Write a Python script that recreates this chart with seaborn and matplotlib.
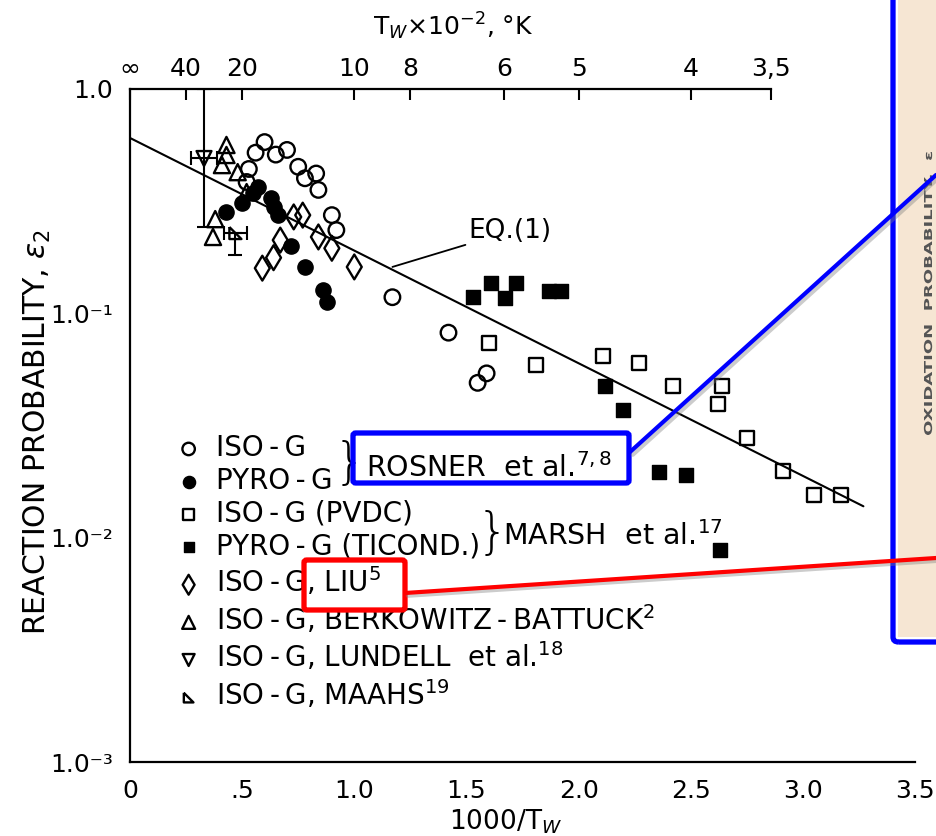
import numpy as np
import pandas as pd
import matplotlib
matplotlib.use("Agg")
import matplotlib.pyplot as plt
import matplotlib.patches as mpatches
import matplotlib.patheffects as pe
from matplotlib.lines import Line2D
from matplotlib.textpath import TextPath
from matplotlib.font_manager import FontProperties
from matplotlib.transforms import Affine2D, IdentityTransform
from matplotlib.ticker import FixedLocator, NullFormatter
import seaborn as sns

# ---- data (x = 1000/Tw, y = reaction probability) ----
# Rosner et al. ISO-G (open circles)
rosner_iso_x = [0.60, 0.56, 0.65, 0.70, 0.75, 0.78, 0.83, 0.84, 0.53, 0.52, 0.90, 0.92, 1.17, 1.42, 1.59, 1.55]
rosner_iso_y = [0.58, 0.52, 0.51, 0.535, 0.45, 0.40, 0.42, 0.355, 0.44, 0.385, 0.274, 0.235, 0.118, 0.082, 0.054, 0.049]
# Rosner et al. PYRO-G (filled circles)
rosner_pyro_x = [0.43, 0.50, 0.57, 0.55, 0.63, 0.64, 0.66, 0.72, 0.78, 0.86, 0.88]
rosner_pyro_y = [0.283, 0.31, 0.366, 0.344, 0.327, 0.298, 0.274, 0.20, 0.161, 0.127, 0.112]
# Marsh et al. ISO-G (PVDC) (open squares)
marsh_iso_x = [1.60, 1.81, 2.11, 2.27, 2.42, 2.64, 2.62, 2.75, 2.91, 3.05, 3.17]
marsh_iso_y = [0.074, 0.059, 0.0645, 0.060, 0.0474, 0.0474, 0.0394, 0.0278, 0.0198, 0.0155, 0.0155]
# Marsh et al. PYRO-G (TICOND.) (filled squares)
marsh_pyro_x = [1.53, 1.61, 1.72, 1.67, 1.87, 1.92, 2.12, 2.20, 2.36, 2.48, 2.63]
marsh_pyro_y = [0.118, 0.136, 0.136, 0.117, 0.126, 0.126, 0.0474, 0.037, 0.0196, 0.019, 0.0088]
# Liu (diamonds)
liu_x = [0.73, 0.77, 0.67, 0.64, 0.59, 0.84, 0.90, 1.00]
liu_y = [0.269, 0.274, 0.212, 0.177, 0.159, 0.219, 0.195, 0.161]
# Berkowitz-Battuck (up triangles)
berk_x = [0.43, 0.43, 0.41, 0.48, 0.52, 0.38, 0.37]
berk_y = [0.563, 0.508, 0.458, 0.426, 0.347, 0.263, 0.219]
# Lundell et al. (down triangle with error bars)
lundell_x = [0.33]
lundell_y = [0.49]
lundell_xerr = [0.06]
lundell_ylow = [0.243]
lundell_yhigh = [1.0]
# Maahs (right triangle with error bars)
maahs_x = [0.47]
maahs_y = [0.228]
maahs_xerr = [0.053]
maahs_ylow = [0.182]
# EQ.(1) line end points
eq_x = [0.0, 3.27]
eq_y = [0.605, 0.0138]

x_ticks = [0, 0.5, 1.0, 1.5, 2.0, 2.5, 3.0, 3.5]
x_tick_labels = ["0", ".5", "1.0", "1.5", "2.0", "2.5", "3.0", "3.5"]
y_ticks = [1e-3, 1e-2, 1e-1, 1.0]
y_tick_labels = ["1.0\u207b\u00b3", "1.0\u207b\u00b2", "1.0\u207b\u00b9", "1.0"]
top_temps = [np.inf, 40, 20, 10, 8, 6, 5, 4, 3.5]
top_labels = ["\u221e", "40", "20", "10", "8", "6", "5", "4", "3,5"]

sns.set_theme(style="white")
plt.rcParams["font.family"] = ["DejaVu Sans"]
plt.rcParams["axes.linewidth"] = 1.6
for key in ["text.color", "axes.labelcolor", "xtick.color", "ytick.color", "axes.edgecolor"]:
    plt.rcParams[key] = "black"

W, H = 936, 836
fig = plt.figure(figsize=(W / 100, H / 100), dpi=100)
ax = fig.add_axes([130 / W, 1 - 762 / H, 785 / W, 673 / H])


def fpx(x, y):
    return (x / W, 1 - y / H)


open_kw = dict(facecolor="none", edgecolor="black", linewidth=1.7)
fill_kw = dict(color="black", edgecolor="black", linewidth=1.0)
maahs_marker = [(-1, 1), (-1, -1), (1, -1), (-1, 1)]
hy = "\u2009-\u2009"

series = [
    (f"ISO{hy}G", rosner_iso_x, rosner_iso_y, "o", 125, open_kw),
    (f"PYRO{hy}G", rosner_pyro_x, rosner_pyro_y, "o", 120, fill_kw),
    (f"ISO{hy}G (PVDC)", marsh_iso_x, marsh_iso_y, "s", 105, open_kw),
    (f"PYRO{hy}G (TICOND.)", marsh_pyro_x, marsh_pyro_y, "s", 95, fill_kw),
    (f"ISO{hy}G, LIU$^5$", liu_x, liu_y, "d", 160, open_kw),
    (f"ISO{hy}G, BERKOWITZ{hy}BATTUCK$^2$", berk_x, berk_y, "^", 135, open_kw),
]

for label, xs, ys, mk, s, kw in series:
    df = pd.DataFrame({"x": xs, "y": ys})
    sns.scatterplot(data=df, x="x", y="y", marker=mk, s=s, ax=ax, label=label, zorder=3, **kw)

ax.errorbar(lundell_x, lundell_y, xerr=lundell_xerr,
            yerr=[np.array(lundell_y) - np.array(lundell_ylow), np.array(lundell_yhigh) - np.array(lundell_y)],
            fmt="none", ecolor="black", elinewidth=1.5, capsize=5, capthick=1.5, zorder=2)
sns.scatterplot(x=lundell_x, y=lundell_y, marker="v", s=115, ax=ax,
                label=f"ISO{hy}G, LUNDELL  et al.$^{{18}}$", zorder=3, **open_kw)
ax.errorbar(maahs_x, maahs_y, xerr=maahs_xerr,
            yerr=[np.array(maahs_y) - np.array(maahs_ylow), np.zeros(1)],
            fmt="none", ecolor="black", elinewidth=1.5, capsize=5, capthick=1.5, zorder=2)
sns.scatterplot(x=maahs_x, y=maahs_y, marker=maahs_marker, s=75, ax=ax,
                label=f"ISO{hy}G, MAAHS$^{{19}}$", zorder=3, **open_kw)

sns.lineplot(x=eq_x, y=eq_y, ax=ax, color="black", linewidth=1.5, zorder=2)

ax.set_yscale("log")
ax.set_xlim(0, 3.5)
ax.set_ylim(1e-3, 1.0)
ax.set_xticks(x_ticks)
ax.set_xticklabels(x_tick_labels)
ax.set_yticks(y_ticks)
ax.set_yticklabels(y_tick_labels)
ax.yaxis.set_minor_locator(FixedLocator([m * 10.0 ** e for e in (-3, -2, -1) for m in (2, 4, 6, 8)]))
ax.yaxis.set_minor_formatter(NullFormatter())
ax.tick_params(axis="both", which="major", direction="in", length=9, width=1.5,
               labelsize=18, colors="black")
ax.tick_params(axis="x", pad=12)
ax.tick_params(axis="y", pad=12)
ax.tick_params(axis="y", which="minor", direction="in", length=6, width=1.2)
ax.spines["right"].set_visible(False)
ax.spines["top"].set_visible(False)
ax.set_xlabel(r"1000/T$_W$", fontsize=19)
ax.xaxis.set_label_coords(0.478, -0.068)
ax.set_ylabel(r"REACTION PROBABILITY, $\epsilon_2$", fontsize=21.5)
ax.yaxis.set_label_coords(-0.098, 0.49)

top = ax.secondary_xaxis("top")
top.set_xticks([10 / t if np.isfinite(t) else 0.0 for t in top_temps])
top.set_xticklabels(top_labels)
top.tick_params(direction="in", length=8, width=1.5, labelsize=18, pad=6, colors="black")
top.spines["top"].set_bounds(0, 10 / 3.5)
top.spines["top"].set_linewidth(1.6)
fig.text(*fpx(453, 26), r"T$_W$$\times$10$^{-2}$, °K", fontsize=18, ha="center", va="center")

# EQ.(1) label with leader
ax.annotate("EQ.(1)", xy=(1.17, 0.161), xytext=(1.51, 0.232), fontsize=19,
            va="center", ha="left",
            arrowprops=dict(arrowstyle="-", color="black", lw=1.3, shrinkA=0, shrinkB=0))

leg = ax.legend(loc="upper left", bbox_to_anchor=(0.057, 0.487), frameon=False,
                fontsize=20, handlelength=1.0, handletextpad=0.5, labelspacing=0.17,
                borderpad=0, borderaxespad=0, markerscale=0.8)

ax.text(0.98, 0.0212, "}", fontsize=36, va="center", ha="center", fontweight="light")
ax.text(1.05, 0.0205, r"ROSNER  et al.$^{7,8}$", fontsize=20.5, va="center", ha="left")
ax.text(1.615, 0.0104, "}", fontsize=36, va="center", ha="center", fontweight="light")
ax.text(1.665, 0.0102, r"MARSH  et al.$^{17}$", fontsize=20.5, va="center", ha="left")

# ---- overlay: highlight boxes, connecting lines, side panel ----
shadow = [pe.SimpleLineShadow(offset=(2, -2), shadow_color="gray", alpha=0.4), pe.Normal()]
fig.add_artist(mpatches.Rectangle(fpx(898, 637), 40 / W, 637 / H, transform=fig.transFigure,
                                  facecolor="#f6e6d3", edgecolor="none", zorder=5))
fig.add_artist(mpatches.FancyBboxPatch(fpx(893, 642), 80 / W, 700 / H, transform=fig.transFigure,
                                       boxstyle="round,pad=0,rounding_size=0.006",
                                       facecolor="none", edgecolor="#0000ff", linewidth=3.8, zorder=6))

# stretched side-panel caption (pixel coordinates)
tp = TextPath((0, 0), "OXIDATION  PROBABILITY,  \u03b5", size=10,
              prop=FontProperties(family="DejaVu Sans", weight="bold"))
ext = tp.get_extents()
sx = 283 / ext.width
sy = 8.0 / 7.3
tr = (Affine2D().translate(-ext.x0, 0).scale(sx, sy).rotate_deg(90)
      .translate(932, H - 435))
fig.add_artist(mpatches.PathPatch(tp, transform=tr + IdentityTransform(), facecolor="#555555",
                                  edgecolor="none", zorder=7))

fig.add_artist(mpatches.FancyBboxPatch(fpx(353, 483), 276 / W, 50 / H, transform=fig.transFigure,
                                       boxstyle="round,pad=0,rounding_size=0.003",
                                       facecolor="none", edgecolor="#0000ff", linewidth=3.8, zorder=6))
fig.add_artist(Line2D([630 / W, 936 / W], [1 - 452 / H, 1 - 175 / H], transform=fig.transFigure,
                      color="#0000ff", linewidth=3.0, zorder=8, path_effects=shadow))
fig.add_artist(mpatches.FancyBboxPatch(fpx(304, 610), 101 / W, 50 / H, transform=fig.transFigure,
                                       boxstyle="round,pad=0,rounding_size=0.003",
                                       facecolor="none", edgecolor="#ff0000", linewidth=3.8, zorder=6))
fig.add_artist(Line2D([405 / W, 936 / W], [1 - 593 / H, 1 - 558 / H], transform=fig.transFigure,
                      color="#ff0000", linewidth=3.0, zorder=6, path_effects=shadow))

fig.savefig("out.png", dpi=100)
